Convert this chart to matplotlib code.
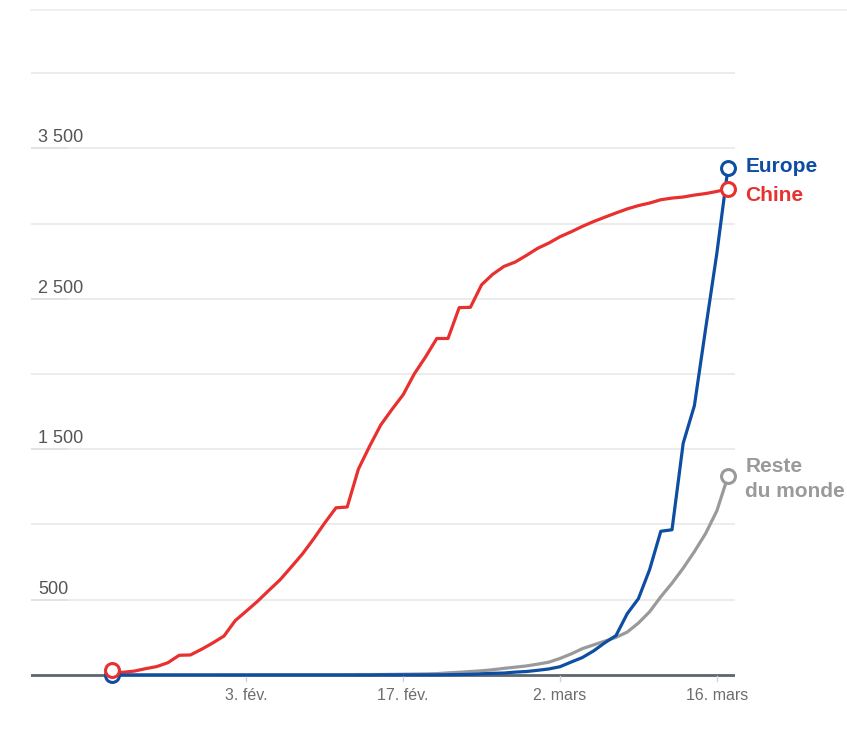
import numpy as np
import matplotlib
matplotlib.use("Agg")
import matplotlib.pyplot as plt
import matplotlib.dates as mdates
import matplotlib.transforms as mtransforms

# Cumulative COVID-19 deaths, daily from 22 January to 17 March 2020
dates = np.arange(np.datetime64("2020-01-22"), np.datetime64("2020-03-18"))

chine = [17, 18, 26, 42, 56, 82, 131, 133, 171, 213,          # 22-31 janv.
         259, 361, 425, 490, 562, 632, 717, 804, 904, 1011,     # 1-10 fév.
         1111, 1116, 1368, 1520, 1662, 1765, 1863, 2002, 2114, 2236,  # 11-20 fév.
         2236, 2441, 2443, 2593, 2663, 2715, 2744, 2788, 2835,  # 21-29 fév.
         2870, 2912, 2945, 2981, 3013, 3042, 3070, 3097, 3119, 3136,  # 1-10 mars
         3158, 3169, 3176, 3189, 3199, 3213, 3230]              # 11-17 mars

europe = [0] * 24 + [1, 1, 1, 1, 1, 1,                          # -> 20 fév.
          2, 3, 4, 8, 11, 13, 19, 23, 31,                       # 21-29 fév.
          40, 55, 86, 116, 160, 214, 262, 407, 507, 700,        # 1-10 mars
          955, 965, 1540, 1790, 2300, 2800, 3370]               # 11-17 mars

reste = [0] * 10 + [1, 1, 1, 2, 2, 2, 2, 2, 2, 2,               # 1-10 fév.
         2, 2, 3, 3, 3, 4, 5, 6, 7, 9,                          # 11-20 fév.
         14, 18, 23, 28, 35, 44, 52, 60, 72,                    # 21-29 fév.
         85, 110, 140, 175, 200, 225, 250, 285, 345, 420,       # 1-10 mars
         520, 610, 710, 820, 940, 1090, 1320]                   # 11-17 mars

tick_dates = ["2020-02-03", "2020-02-17", "2020-03-02", "2020-03-16"]
tick_labels = ["3. fév.", "17. fév.", "2. mars", "16. mars"]
y_grid = [500, 1000, 1500, 2000, 2500, 3000, 3500, 4000]
y_labels = {500: "500", 1500: "1 500", 2500: "2 500", 3500: "3 500"}

series_names = ["Europe", "Chine", "Reste\ndu monde"]

BLUE = "#0d4ea3"
RED = "#e8302e"
GREY = "#9a9a9a"
FONT = ["Liberation Sans Narrow", "Liberation Sans", "DejaVu Sans"]

x = mdates.date2num(dates.astype(object))
day0 = x[0]

W, H = 847, 745
fig = plt.figure(figsize=(W / 100, H / 100), dpi=100)
fig.patch.set_facecolor("white")

# axes box in pixels: x from 31 to 735, y from 680 (bottom) to 68 (top)
left, right, bottom, top = 31, 735, 680, 68
ax = fig.add_axes([left / W, 1 - bottom / H, (right - left) / W, (bottom - top) / H])
px_day = 11.2
ax.set_xlim(day0 + (left - 112) / px_day, day0 + (right - 112) / px_day)
ax.set_ylim(-5 / 0.15, 4000 + 5 / 0.15)
ax.axis("off")

# thin separator at the top of the graphic
fig.add_artist(plt.Line2D([31 / W, 1.0], [1 - 9.5 / H] * 2, color="#ececec", lw=1.2))

label_tr = mtransforms.blended_transform_factory(fig.transFigure, ax.transData)
for g in y_grid:
    ax.axhline(g, color="#ebebeb", lw=1.3, zorder=0)
    if g in y_labels:
        ax.plot([ax.get_xlim()[0], day0 - 4], [g, g], color="#e2e2e2", lw=1.3, zorder=0.5)
        ax.text(38 / W, g + 12, y_labels[g], transform=label_tr,
                ha="left", va="bottom", fontsize=13, color="#555555", family=FONT)

# baseline
ax.axhline(0, color="#5c6670", lw=2, zorder=1)

# tick marks and labels
for d, lab in zip(tick_dates, tick_labels):
    xd = mdates.date2num(np.datetime64(d).astype(object))
    ax.plot([xd, xd], [-8, -40], color="#c9d5e3", lw=1, zorder=1, clip_on=False)
    ax.text(xd, -85, lab, ha="center", va="top", fontsize=11.5, color="#6d6d6d", family=FONT)

lw = 2.3
ax.plot(x, reste, color=GREY, lw=lw, zorder=2, solid_joinstyle="round")
ax.plot(x, chine, color=RED, lw=lw, zorder=3, solid_joinstyle="round")
ax.plot(x, europe, color=BLUE, lw=lw, zorder=4, solid_joinstyle="round")

# start markers
ax.plot(x[0], europe[0], "o", ms=10, mfc="white", mec=BLUE, mew=2.2, zorder=5, clip_on=False)
ax.plot(x[0], chine[0] + 15, "o", ms=10, mfc="white", mec=RED, mew=2.2, zorder=6, clip_on=False)

# end markers and labels
ends = [(europe[-1], BLUE), (chine[-1], RED), (reste[-1], GREY)]
label_y = [europe[-1] + 10, chine[-1] - 45, reste[-1] - 15]
for (val, col), name, ly in zip(ends, series_names, label_y):
    ax.plot(x[-1], val, "o", ms=10, mfc="white", mec=col, mew=2.2, zorder=7, clip_on=False)
    ax.text(x[-1] + 1.55, ly, name, ha="left", va="center", fontsize=15, fontweight="bold",
            color=col, family=FONT, linespacing=1.4)

fig.savefig("out.png", dpi=100, facecolor="white")
